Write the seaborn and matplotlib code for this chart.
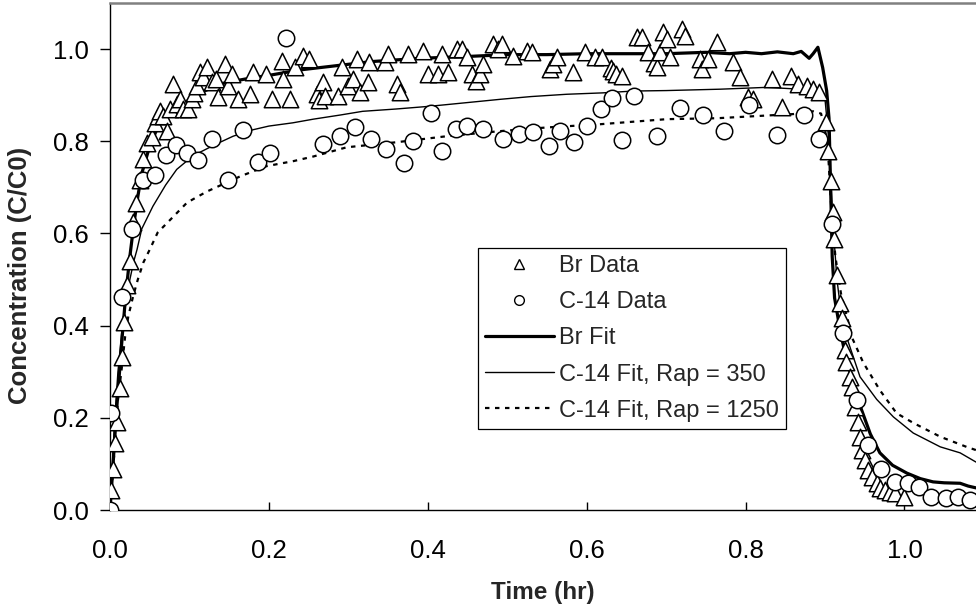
import matplotlib
matplotlib.use("Agg")
import matplotlib.pyplot as plt
from matplotlib.lines import Line2D
import seaborn as sns
import pandas as pd

# ---------------- data ----------------
br_x = [0.000, 0.001, 0.004, 0.006, 0.009, 0.013, 0.015, 0.017, 0.021, 0.025,
        0.029, 0.033, 0.038, 0.042, 0.046, 0.053, 0.057, 0.060, 0.063, 0.067,
        0.072, 0.076, 0.079, 0.084, 0.088, 0.092, 0.098, 0.103, 0.106, 0.109,
        0.113, 0.117, 0.122, 0.128, 0.134, 0.136, 0.145, 0.148, 0.153, 0.161,
        0.176, 0.180, 0.196, 0.204, 0.216, 0.218, 0.226, 0.233, 0.243, 0.250,
        0.260, 0.263, 0.268, 0.270, 0.287, 0.292, 0.300, 0.306, 0.311, 0.315,
        0.325, 0.326, 0.346, 0.350, 0.361, 0.365, 0.375, 0.394, 0.400, 0.413,
        0.418, 0.425, 0.437, 0.443, 0.449, 0.456, 0.461, 0.466, 0.470, 0.482,
        0.488, 0.493, 0.507, 0.525, 0.531, 0.554, 0.558, 0.562, 0.583, 0.598,
        0.610, 0.619, 0.630, 0.633, 0.637, 0.644, 0.663, 0.669, 0.677, 0.685,
        0.688, 0.692, 0.696, 0.701, 0.705, 0.720, 0.724, 0.743, 0.745, 0.753,
        0.764, 0.784, 0.793, 0.803, 0.809, 0.833, 0.846, 0.857, 0.866, 0.877,
        0.885, 0.892, 0.901, 0.904, 0.907, 0.910, 0.911, 0.915, 0.919, 0.921,
        0.925, 0.927, 0.931, 0.934, 0.938, 0.941, 0.944, 0.946, 0.950, 0.954,
        0.959, 0.965, 0.969, 0.975, 0.982, 0.988, 1.000]
br_y = [0.000, 0.043, 0.089, 0.146, 0.190, 0.265, 0.333, 0.408, 0.489, 0.540,
        0.625, 0.667, 0.717, 0.761, 0.797, 0.809, 0.840, 0.854, 0.866, 0.854,
        0.822, 0.870, 0.924, 0.880, 0.891, 0.870, 0.870, 0.891, 0.905, 0.920,
        0.950, 0.940, 0.961, 0.928, 0.935, 0.896, 0.967, 0.920, 0.946, 0.891,
        0.902, 0.950, 0.946, 0.891, 0.974, 0.935, 0.891, 0.961, 0.985, 0.978,
        0.902, 0.890, 0.928, 0.898, 0.898, 0.961, 0.920, 0.935, 0.978, 0.907,
        0.928, 0.972, 0.972, 0.989, 0.924, 0.907, 0.989, 0.996, 0.946, 0.946,
        0.989, 0.950, 1.000, 1.000, 0.983, 0.946, 0.930, 0.946, 0.967, 1.011,
        1.000, 1.011, 0.985, 0.996, 0.993, 0.957, 0.967, 0.983, 0.950, 0.993,
        0.983, 0.983, 0.960, 0.952, 0.945, 0.941, 1.026, 1.026, 0.993, 0.970,
        0.961, 0.993, 1.037, 1.022, 0.983, 1.043, 1.028, 0.978, 0.957, 0.978,
        1.015, 0.972, 0.939, 0.896, 0.891, 0.935, 0.874, 0.941, 0.924, 0.920,
        0.913, 0.907, 0.841, 0.778, 0.713, 0.646, 0.587, 0.510, 0.450, 0.417,
        0.348, 0.322, 0.289, 0.267, 0.224, 0.191, 0.159, 0.130, 0.109, 0.087,
        0.072, 0.059, 0.048, 0.043, 0.039, 0.037, 0.028]

c14_x = [0.000, 0.001, 0.015, 0.028, 0.042, 0.057, 0.070, 0.083, 0.097, 0.111,
         0.128, 0.148, 0.167, 0.186, 0.201, 0.222, 0.268, 0.289, 0.308, 0.329,
         0.348, 0.370, 0.381, 0.404, 0.418, 0.435, 0.449, 0.470, 0.495, 0.515,
         0.533, 0.552, 0.566, 0.584, 0.601, 0.618, 0.632, 0.645, 0.659, 0.688,
         0.717, 0.746, 0.773, 0.804, 0.840, 0.873, 0.892, 0.909, 0.923, 0.940,
         0.954, 0.971, 0.988, 1.004, 1.018, 1.033, 1.052, 1.067, 1.082]
c14_y = [0.000, 0.211, 0.463, 0.609, 0.717, 0.726, 0.770, 0.791, 0.774, 0.759,
         0.804, 0.715, 0.824, 0.754, 0.774, 1.024, 0.793, 0.811, 0.830, 0.804,
         0.783, 0.752, 0.800, 0.861, 0.778, 0.826, 0.833, 0.826, 0.806, 0.815,
         0.820, 0.790, 0.822, 0.798, 0.833, 0.870, 0.893, 0.802, 0.898, 0.811,
         0.873, 0.858, 0.822, 0.878, 0.813, 0.858, 0.806, 0.620, 0.383, 0.239,
         0.141, 0.089, 0.061, 0.059, 0.050, 0.028, 0.026, 0.028, 0.022]

brfit_x = [0, 0.002, 0.005, 0.008, 0.012, 0.016, 0.02, 0.025, 0.03, 0.035, 0.04,
           0.05, 0.06, 0.07, 0.08, 0.09, 0.1, 0.11, 0.12, 0.14, 0.17, 0.2, 0.24,
           0.28, 0.33, 0.39, 0.45, 0.5, 0.55, 0.6, 0.65, 0.7, 0.75, 0.78, 0.8,
           0.82, 0.84, 0.86, 0.87, 0.88, 0.885, 0.891, 0.897, 0.902, 0.905,
           0.907, 0.909, 0.912, 0.918, 0.925, 0.935, 0.946, 0.957, 0.969, 0.985,
           1.003, 1.02, 1.036, 1.05, 1.07, 1.08, 1.09]
brfit_y = [0, 0.05, 0.13, 0.21, 0.30, 0.39, 0.47, 0.55, 0.62, 0.68, 0.73,
           0.79, 0.83, 0.855, 0.87, 0.88, 0.89, 0.90, 0.91, 0.925, 0.935, 0.943,
           0.955, 0.963, 0.973, 0.980, 0.984, 0.988, 0.988, 0.990, 0.990, 0.990,
           0.993, 0.990, 0.993, 0.990, 0.994, 0.990, 0.995, 0.980, 0.990, 1.004,
           0.960, 0.910, 0.850, 0.700, 0.550, 0.460, 0.400, 0.340, 0.276, 0.217,
           0.165, 0.124, 0.097, 0.080, 0.068, 0.061, 0.059, 0.058, 0.052, 0.048]

fit350_x = [0, 0.003, 0.006, 0.01, 0.015, 0.02, 0.025, 0.03, 0.034, 0.04, 0.054,
            0.07, 0.084, 0.1, 0.113, 0.135, 0.155, 0.18, 0.2, 0.23, 0.256, 0.29,
            0.318, 0.36, 0.403, 0.45, 0.491, 0.53, 0.575, 0.62, 0.659, 0.7,
            0.768, 0.827, 0.868, 0.891, 0.9, 0.905, 0.91, 0.915, 0.92, 0.927,
            0.944, 0.965, 0.986, 1.011, 1.028, 1.045, 1.07, 1.09]
fit350_y = [0, 0.10, 0.20, 0.30, 0.39, 0.45, 0.50, 0.54, 0.565, 0.61, 0.659,
            0.705, 0.739, 0.762, 0.776, 0.795, 0.811, 0.825, 0.833, 0.840, 0.848,
            0.857, 0.865, 0.870, 0.876, 0.884, 0.891, 0.897, 0.902, 0.905, 0.909,
            0.910, 0.913, 0.917, 0.913, 0.902, 0.890, 0.800, 0.620, 0.500, 0.430,
            0.376, 0.289, 0.240, 0.202, 0.167, 0.152, 0.137, 0.124, 0.104]

fit1250_x = [0, 0.004, 0.007, 0.01, 0.015, 0.019, 0.023, 0.029, 0.035, 0.042,
             0.05, 0.06, 0.076, 0.097, 0.122, 0.164, 0.197, 0.231, 0.256, 0.298,
             0.361, 0.424, 0.491, 0.55, 0.617, 0.701, 0.764, 0.86, 0.885, 0.895,
             0.903, 0.908, 0.913, 0.92, 0.935, 0.948, 0.969, 0.99, 1.011, 1.045,
             1.078, 1.09]
fit1250_y = [0, 0.09, 0.16, 0.239, 0.311, 0.376, 0.42, 0.463, 0.50, 0.537,
             0.565, 0.602, 0.63, 0.667, 0.691, 0.724, 0.746, 0.757, 0.767, 0.787,
             0.798, 0.811, 0.822, 0.830, 0.837, 0.848, 0.850, 0.859, 0.865, 0.860,
             0.800, 0.650, 0.550, 0.470, 0.370, 0.320, 0.260, 0.210, 0.189, 0.159,
             0.137, 0.130]

x_ticks = [0.0, 0.2, 0.4, 0.6, 0.8, 1.0]
y_ticks = [0.0, 0.2, 0.4, 0.6, 0.8, 1.0]
x_label = "Time (hr)"
y_label = "Concentration (C/C0)"
legend_labels = ["Br Data", "C-14 Data", "Br Fit", "C-14 Fit, Rap = 350",
                 "C-14 Fit, Rap = 1250"]

# ---------------- style ----------------
sns.set_style("white")
plt.rcParams["font.family"] = ["Liberation Sans", "DejaVu Sans"]

fig = plt.figure(figsize=(9.76, 6.08), dpi=100)
ax = fig.add_axes([110 / 976, 1 - 510 / 608, 866 / 976, 507 / 608])

# fits
sns.lineplot(x=brfit_x, y=brfit_y, ax=ax, color="black", linewidth=2.3,
             estimator=None, sort=False, zorder=2)
sns.lineplot(x=fit350_x, y=fit350_y, ax=ax, color="black", linewidth=1.0,
             estimator=None, sort=False, zorder=2)
sns.lineplot(x=fit1250_x, y=fit1250_y, ax=ax, color="black", linewidth=1.6,
             estimator=None, sort=False, zorder=2, dashes=False)
ax.lines[-1].set_linestyle((0, (2.0, 2.5)))

# data
sns.scatterplot(x=br_x, y=br_y, ax=ax, marker="^", s=140, color="white",
                edgecolor="black", linewidth=1.1, zorder=3)
sns.scatterplot(x=c14_x, y=c14_y, ax=ax, marker="o", s=140, color="white",
                edgecolor="black", linewidth=1.1, zorder=3)

ax.set_xlim(0, 1.09)
ax.set_ylim(0, 1.1)
ax.set_xticks(x_ticks)
ax.set_xticklabels([f"{v:.1f}" for v in x_ticks])
ax.set_yticks(y_ticks)
ax.set_yticklabels([f"{v:.1f}" for v in y_ticks])
ax.tick_params(axis="x", direction="in", length=6, width=1, pad=21,
               labelsize=18.5, colors="black", bottom=True)
ax.tick_params(axis="y", direction="out", length=7, width=1, pad=8,
               labelsize=18.5, colors="black", left=True)
ax.set_xlabel(x_label, fontsize=17.5, fontweight="bold")
ax.set_ylabel(y_label, fontsize=18.5, fontweight="bold")
ax.xaxis.set_label_coords(0.5, (510 - 592) / 507)
ax.xaxis.label.set_va("center")
ax.yaxis.set_label_coords((20 - 110) / 866, (510 - 275) / 507)
ax.yaxis.label.set_va("center")

for side in ["left", "bottom"]:
    ax.spines[side].set_color("black")
    ax.spines[side].set_linewidth(1.0)
ax.spines["top"].set_color("#808080")
ax.spines["top"].set_linewidth(1.8)
ax.spines["right"].set_visible(False)

handles = [
    Line2D([], [], linestyle="none", marker="^", markersize=7,
           markerfacecolor="white", markeredgecolor="black", markeredgewidth=1),
    Line2D([], [], linestyle="none", marker="o", markersize=7,
           markerfacecolor="white", markeredgecolor="black", markeredgewidth=1),
    Line2D([], [], color="black", linewidth=2.3),
    Line2D([], [], color="black", linewidth=1.0),
    Line2D([], [], color="black", linewidth=1.6, linestyle=(0, (2.0, 2.5))),
]
leg = ax.legend(handles, legend_labels, loc="upper left",
                bbox_to_anchor=((478 - 110) / 866, (510 - 248) / 507),
                borderaxespad=0, fontsize=17, frameon=True, fancybox=False,
                edgecolor="black", framealpha=1, handlelength=2.9,
                handletextpad=0.25, labelspacing=0.6, borderpad=0.3)
leg.get_frame().set_linewidth(0.9)

fig.savefig("out.png", dpi=100)
